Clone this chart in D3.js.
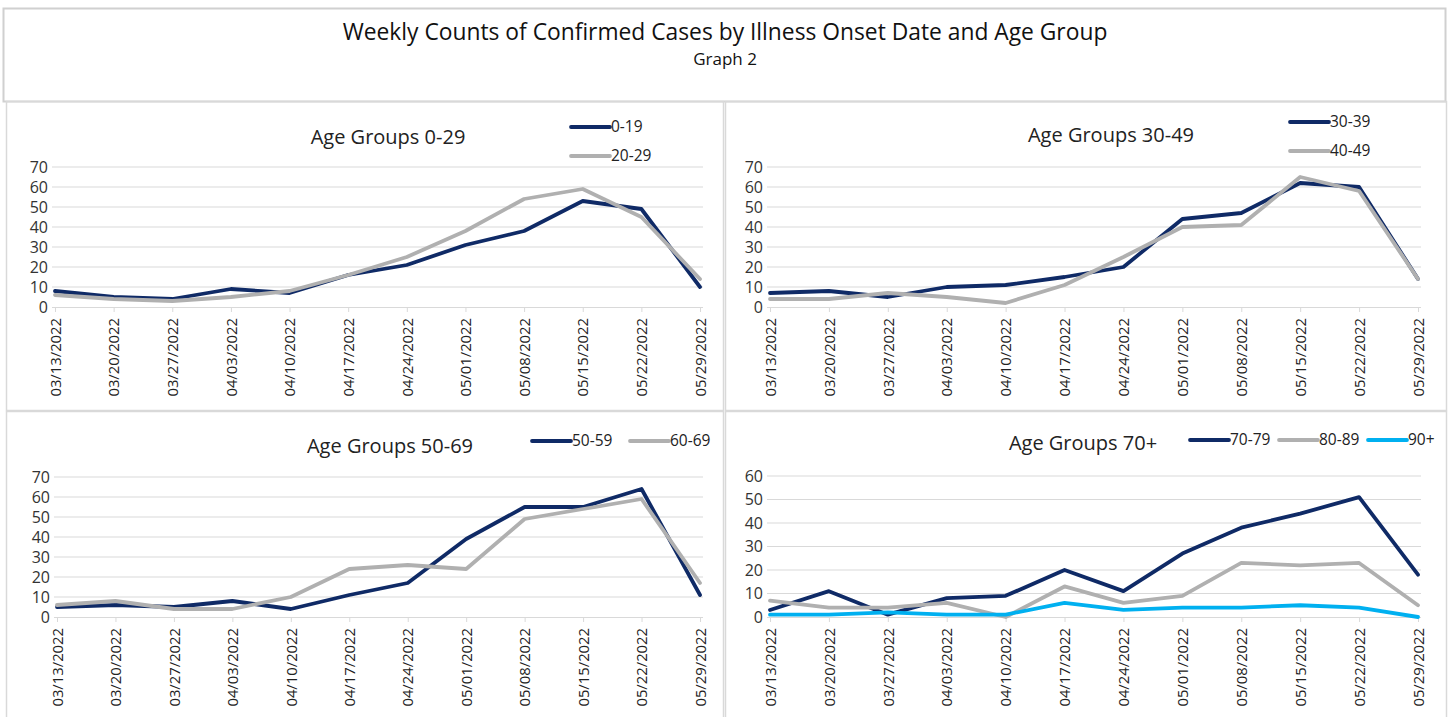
<!DOCTYPE html>
<html>
<head>
<meta charset="utf-8">
<title>Weekly Counts of Confirmed Cases by Illness Onset Date and Age Group</title>
<script src="https://cdn.jsdelivr.net/npm/d3@7"></script>
<style>
  body { margin: 0; background: #fff; }
  svg { display: block; font-family: "Open Sans", "Noto Sans", sans-serif; }
</style>
</head>
<body>
<div id="chart"></div>
<script>
// week labels (illness onset, week starting)
const weeks = ["03/13/2022", "03/20/2022", "03/27/2022", "04/03/2022", "04/10/2022", "04/17/2022",
               "04/24/2022", "05/01/2022", "05/08/2022", "05/15/2022", "05/22/2022", "05/29/2022"];

// weekly counts per age group
const age0_19  = [8, 5, 4, 9, 7, 16, 21, 31, 38, 53, 49, 10];
const age20_29 = [6, 4, 3, 5, 8, 16, 25, 38, 54, 59, 45, 14];
const age30_39 = [7, 8, 5, 10, 11, 15, 20, 44, 47, 62, 60, 14];
const age40_49 = [4, 4, 7, 5, 2, 11, 25, 40, 41, 65, 58, 14];
const age50_59 = [5, 6, 5, 8, 4, 11, 17, 39, 55, 55, 64, 11];
const age60_69 = [6, 8, 4, 4, 10, 24, 26, 24, 49, 54, 59, 17];
const age70_79 = [3, 11, 1, 8, 9, 20, 11, 27, 38, 44, 51, 18];
const age80_89 = [7, 4, 4, 6, 0, 13, 6, 9, 23, 22, 23, 5];
const age90up  = [1, 1, 2, 1, 1, 6, 3, 4, 4, 5, 4, 0];

// y tick labels
const ticks70 = [0, 10, 20, 30, 40, 50, 60, 70];
const ticks60 = [0, 10, 20, 30, 40, 50, 60];

const navy = "#0f2a66", grey = "#b0b0b0", sky = "#00b0f0";

const width = 1449, height = 717;

const svg = d3.select("#chart").append("svg")
  .attr("width", width)
  .attr("height", height);

// header box
svg.append("rect")
  .attr("x", 3.5).attr("y", 8.5).attr("width", 1442).attr("height", 93)
  .attr("fill", "none").attr("stroke", "#d0d0d0").attr("stroke-width", 2);

svg.append("text")
  .attr("x", 725).attr("y", 40)
  .attr("text-anchor", "middle")
  .attr("font-size", 22.8)
  .attr("fill", "#111")
  .text("Weekly Counts of Confirmed Cases by Illness Onset Date and Age Group");

svg.append("text")
  .attr("x", 725).attr("y", 65)
  .attr("text-anchor", "middle")
  .attr("font-size", 17)
  .attr("fill", "#111")
  .text("Graph 2");

// panel layouts
const panels = [
  { box: [6, 101, 717, 309], x: [55, 700], y: [307, 167], max: 70, ticks: ticks70,
    title: "Age Groups 0-29", titleX: 388, titleY: 144,
    series: [
      { name: "0-19", values: age0_19, color: navy, lx: 571, ly: 127 },
      { name: "20-29", values: age20_29, color: grey, lx: 571, ly: 156 }
    ] },
  { box: [725, 101, 721, 309], x: [770, 1418], y: [307, 167], max: 70, ticks: ticks70,
    title: "Age Groups 30-49", titleX: 1111, titleY: 142,
    series: [
      { name: "30-39", values: age30_39, color: navy, lx: 1290, ly: 122 },
      { name: "40-49", values: age40_49, color: grey, lx: 1290, ly: 151 }
    ] },
  { box: [6, 411, 717, 310], x: [57, 700], y: [617, 477], max: 70, ticks: ticks70,
    title: "Age Groups 50-69", titleX: 390, titleY: 453,
    series: [
      { name: "50-59", values: age50_59, color: navy, lx: 532, ly: 441 },
      { name: "60-69", values: age60_69, color: grey, lx: 630, ly: 441 }
    ] },
  { box: [725, 411, 721, 310], x: [770, 1418], y: [617, 476], max: 60, ticks: ticks60,
    title: "Age Groups 70+", titleX: 1083, titleY: 450,
    series: [
      { name: "70-79", values: age70_79, color: navy, lx: 1190, ly: 440 },
      { name: "80-89", values: age80_89, color: grey, lx: 1279, ly: 440 },
      { name: "90+", values: age90up, color: sky, lx: 1368, ly: 440 }
    ] }
];

panels.forEach(p => {
  const g = svg.append("g");

  g.append("rect")
    .attr("x", p.box[0] + 0.5).attr("y", p.box[1] + 0.5)
    .attr("width", p.box[2]).attr("height", p.box[3])
    .attr("fill", "none").attr("stroke", "#d9d9d9").attr("stroke-width", 1.5);

  const x = d3.scalePoint().domain(weeks).range(p.x);
  const y = d3.scaleLinear().domain([0, p.max]).range(p.y);

  // horizontal grid
  g.append("g")
    .selectAll("line")
    .data(p.ticks.slice(1))
    .join("line")
    .attr("x1", p.x[0] - 3).attr("x2", p.x[1] + 3)
    .attr("y1", d => y(d)).attr("y2", d => y(d))
    .attr("stroke", "#d9d9d9").attr("stroke-width", 1);

  // y axis labels
  const yAxis = g.append("g")
    .attr("transform", `translate(${p.x[0] - 7},0)`)
    .call(d3.axisLeft(y).tickValues(p.ticks).tickSize(0).tickPadding(0));
  yAxis.select(".domain").remove();
  yAxis.selectAll("text")
    .attr("font-family", "Open Sans")
    .attr("font-size", 16)
    .attr("fill", "#333");

  // x axis
  const xAxis = g.append("g")
    .attr("transform", `translate(0,${p.y[0]})`)
    .call(d3.axisBottom(x).tickSize(5).tickSizeOuter(0));
  xAxis.select(".domain")
    .attr("d", `M${p.x[0] - 3},0.5H${p.x[1] + 3}`)
    .attr("stroke", "#d9d9d9");
  xAxis.selectAll(".tick line").attr("stroke", "#d9d9d9");
  xAxis.selectAll("text")
    .attr("font-family", "Open Sans")
    .attr("font-size", 14.8)
    .attr("fill", "#222")
    .attr("text-anchor", "end")
    .attr("dy", "0.35em")
    .attr("transform", "translate(0,3) rotate(-90)")
    .attr("x", -8).attr("y", 0);

  // panel title
  g.append("text")
    .attr("x", p.titleX).attr("y", p.titleY)
    .attr("text-anchor", "middle")
    .attr("font-size", 20)
    .attr("fill", "#222")
    .text(p.title);

  const line = d3.line()
    .x((d, i) => x(weeks[i]))
    .y(d => y(d));

  p.series.forEach(s => {
    g.append("path")
      .attr("d", line(s.values))
      .attr("fill", "none")
      .attr("stroke", s.color)
      .attr("stroke-width", 3.8)
      .attr("stroke-linejoin", "round")
      .attr("stroke-linecap", "round");

    g.append("line")
      .attr("x1", s.lx).attr("x2", s.lx + 39)
      .attr("y1", s.ly).attr("y2", s.ly)
      .attr("stroke", s.color)
      .attr("stroke-width", 3.8)
      .attr("stroke-linecap", "round");

    g.append("text")
      .attr("x", s.lx + 40).attr("y", s.ly)
      .attr("dy", "0.35em")
      .attr("font-size", 15.5)
      .attr("fill", "#222")
      .text(s.name);
  });
});
</script>
</body>
</html>
